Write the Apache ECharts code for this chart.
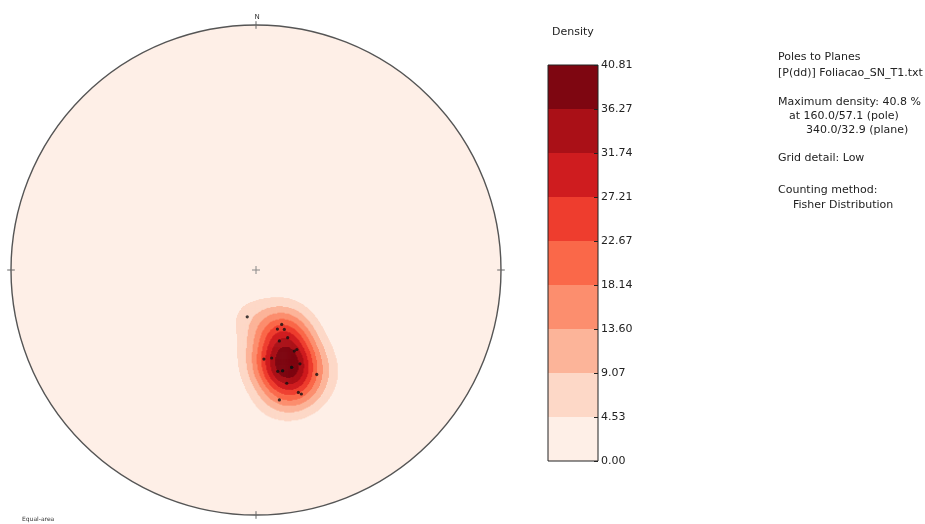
<!DOCTYPE html>
<html><head><meta charset="utf-8">
<script src="https://cdn.jsdelivr.net/npm/echarts@6/dist/echarts.min.js"></script>
<style>html,body{margin:0;padding:0;background:#fff}#c{width:925px;height:524px}</style>
</head><body><div id="c"></div>
<script>
// Poles (trend / plunge, degrees) read from the stereonet (last two are repeated measurements that plot on top of earlier ones)
const POLE_TRENDS  = [190.6,154.7,160.1,154.5,161.8,154.9,174.9,169.9,154.7,152.8,159.9,154.9,167.9,165.2,149.8,164.8,160.9,159.9,169.8,159.9,165.2];
const POLE_PLUNGES = [74.2,70.0,69.1,68.1,65.1,65.1,60.1,60.1,60.0,60.1,55.2,55.2,55.2,55.0,49.2,50.4,46.1,45.2,45.2,55.2,55.0];
const LEVELS = [0,4.53,9.07,13.60,18.14,22.67,27.21,31.74,36.27,40.81];
const LEVEL_LABELS = ['0.00','4.53','9.07','13.60','18.14','22.67','27.21','31.74','36.27','40.81'];
const BAND_COLORS = ['#feefe7','#fdd8c7','#fcb499','#fc8e6e','#fa6849','#ee3d2e','#cf1c1f','#aa1017','#7e0611'];
const MAX_DENSITY = 40.81;
const FISHER_K = 85;
const INFO_LINES = [
  ['Poles to Planes', 778, 56],
  ['[P(dd)] Foliacao_SN_T1.txt', 778, 72],
  ['Maximum density: 40.8 %', 778, 101],
  ['at 160.0/57.1 (pole)', 789, 115],
  ['340.0/32.9 (plane)', 806, 129],
  ['Grid detail: Low', 778, 157],
  ['Counting method:', 778, 189],
  ['Fisher Distribution', 793, 204]
];

const D2R = Math.PI / 180;
function project(trend, plunge) {
  const th = (90 - plunge) * D2R;
  const r = Math.SQRT2 * Math.sin(th / 2);
  return [r * Math.sin(trend * D2R), r * Math.cos(trend * D2R)];
}
const poleVecs = POLE_TRENDS.map((t, i) => {
  const p = POLE_PLUNGES[i] * D2R, tr = t * D2R;
  return [Math.cos(p) * Math.sin(tr), Math.cos(p) * Math.cos(tr), Math.sin(p)];
});
const pointData = POLE_TRENDS.map((t, i) => project(t, POLE_PLUNGES[i]));

// Fisher density on a fine grid of the equal-area net
const STEP = 0.004;
const raw = [];
let maxRaw = 0;
const N = Math.round(2 / STEP);
for (let i = 0; i < N; i++) {
  const x = -1 + STEP * (i + 0.5);
  for (let j = 0; j < N; j++) {
    const y = -1 + STEP * (j + 0.5);
    const r2 = x * x + y * y;
    if (r2 > 1) continue;
    const r = Math.sqrt(r2);
    const th = 2 * Math.asin(r / Math.SQRT2);
    const s = Math.sin(th);
    const ux = r > 0 ? s * x / r : 0, uy = r > 0 ? s * y / r : 0, uz = Math.cos(th);
    let sum = 0;
    for (const v of poleVecs) {
      const d = Math.abs(ux * v[0] + uy * v[1] + uz * v[2]);
      sum += Math.exp(FISHER_K * (d - 1));
    }
    if (sum > maxRaw) maxRaw = sum;
    raw.push([x, y, sum]);
  }
}
const scale = MAX_DENSITY / maxRaw;
const cells = raw.map(d => [d[0], d[1], d[2] * scale]).filter(d => d[2] >= LEVELS[1]).sort((a, b) => a[2] - b[2]);

const pieces = BAND_COLORS.map((c, i) => i === 8 ? {gte: LEVELS[i], color: c} : {gte: LEVELS[i], lt: LEVELS[i + 1], color: c});

const FONT = "'DejaVu Sans', sans-serif";
const chart = echarts.init(document.getElementById('c'), null, {renderer: 'canvas'});
const graphics = [
  {type: 'text', left: 552, top: 27, style: {text: 'Density', font: '11px ' + FONT, fill: '#222'}},
  {type: 'text', left: 22, top: 516, style: {text: 'Equal-area', font: '6px ' + FONT, fill: '#333'}}
].concat(INFO_LINES.map(l => ({type: 'text', left: l[1], top: l[2] - 4, style: {text: l[0], font: '11px ' + FONT, fill: '#222'}})));

chart.setOption({
  animation: false,
  backgroundColor: '#fff',
  grid: [
    {left: 11, top: 25, width: 490, height: 490},
    {left: 548, top: 65, width: 50, height: 396}
  ],
  xAxis: [
    {gridIndex: 0, type: 'value', min: -1, max: 1, show: false},
    {gridIndex: 1, type: 'value', min: 0, max: 1, show: false}
  ],
  yAxis: [
    {gridIndex: 0, type: 'value', min: -1, max: 1, show: false},
    {gridIndex: 1, type: 'value', min: 0, max: 9, interval: 1, position: 'right', z: 10,
     axisLine: {show: false, onZero: false}, splitLine: {show: false},
     axisTick: {show: true, inside: true, length: 4, lineStyle: {color: '#222', width: 1}},
     axisLabel: {margin: 3, color: '#222', fontSize: 11, fontFamily: 'DejaVu Sans', formatter: v => LEVEL_LABELS[v]}}
  ],
  visualMap: {type: 'piecewise', show: false, seriesIndex: 1, dimension: 2, pieces: pieces},
  graphic: graphics,
  series: [
    {type: 'custom', xAxisIndex: 0, yAxisIndex: 0, silent: true, z: 1, data: [[0, 0]],
     renderItem: (p, api) => {
       const c = api.coord([0, 0]); const R = api.size([1, 1])[0];
       return {type: 'circle', shape: {cx: c[0], cy: c[1], r: R}, style: {fill: BAND_COLORS[0]}};
     }},
    {type: 'custom', xAxisIndex: 0, yAxisIndex: 0, silent: true, z: 2, progressive: 0, data: cells,
     renderItem: (p, api) => {
       const c = api.coord([api.value(0), api.value(1)]); const sz = api.size([STEP, STEP]);
       return {type: 'rect', shape: {x: c[0] - sz[0] / 2 - 0.3, y: c[1] - sz[1] / 2 - 0.3, width: sz[0] + 0.6, height: sz[1] + 0.6}, style: {fill: api.visual('color')}};
     }},
    {type: 'custom', xAxisIndex: 0, yAxisIndex: 0, silent: true, z: 3, data: [[0, 0]],
     renderItem: (p, api) => {
       const c = api.coord([0, 0]); const R = api.size([1, 1])[0];
       const t = 3.8, ch = 4;
       const ln = (x1, y1, x2, y2, col, w) => ({type: 'line', shape: {x1, y1, x2, y2}, style: {stroke: col, lineWidth: w}});
       return {type: 'group', children: [
         {type: 'circle', shape: {cx: c[0], cy: c[1], r: R}, style: {fill: null, stroke: '#555', lineWidth: 1.4}},
         ln(c[0], c[1] - R - t, c[0], c[1] - R + t, '#666', 1),
         ln(c[0], c[1] + R - t, c[0], c[1] + R + t, '#666', 1),
         ln(c[0] - R - t, c[1], c[0] - R + t, c[1], '#666', 1),
         ln(c[0] + R - t, c[1], c[0] + R + t, c[1], '#666', 1),
         ln(c[0] - ch, c[1], c[0] + ch, c[1], '#888', 1),
         ln(c[0], c[1] - ch, c[0], c[1] + ch, '#888', 1),
         {type: 'text', style: {text: 'N', x: c[0] + 1, y: c[1] - R - 8, font: '7px ' + FONT, fill: '#333', align: 'center', verticalAlign: 'middle'}}
       ]};
     }},
    {type: 'scatter', xAxisIndex: 0, yAxisIndex: 0, silent: true, z: 4, symbolSize: 3.2, itemStyle: {color: '#111'}, data: pointData},
    {type: 'custom', xAxisIndex: 1, yAxisIndex: 1, silent: true, z: 2, data: BAND_COLORS.map((c, i) => [i]),
     renderItem: (p, api) => {
       const i = api.value(0);
       const a = api.coord([0, i]), b = api.coord([1, i + 1]);
       return {type: 'rect', shape: {x: a[0], y: b[1], width: b[0] - a[0], height: a[1] - b[1]}, style: {fill: BAND_COLORS[i]}};
     }},
    {type: 'custom', xAxisIndex: 1, yAxisIndex: 1, silent: true, z: 3, data: [[0]],
     renderItem: (p, api) => {
       const a = api.coord([0, 0]), b = api.coord([1, 9]);
       return {type: 'rect', shape: {x: a[0], y: b[1], width: b[0] - a[0], height: a[1] - b[1]}, style: {fill: null, stroke: '#222', lineWidth: 1}};
     }}
  ]
});
</script></body></html>
